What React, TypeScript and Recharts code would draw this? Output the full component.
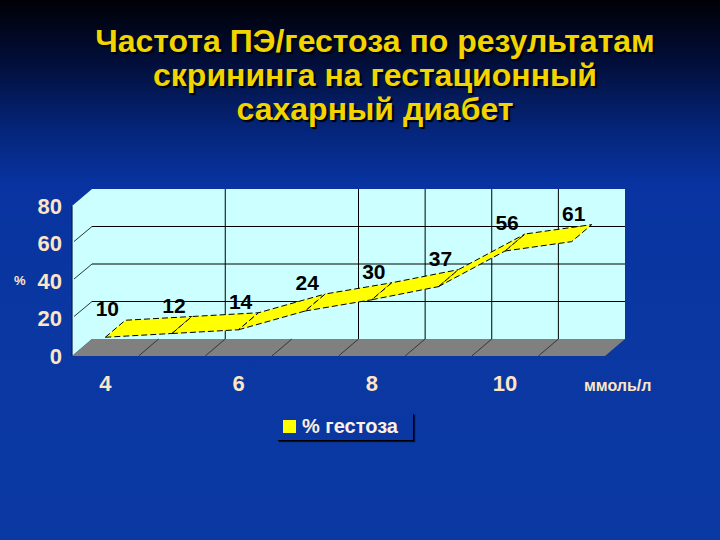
import React from 'react';
import { ComposedChart, XAxis, YAxis, Line, ReferenceArea } from 'recharts';

// glucose, mmol/l (every other category is labelled on the axis)
const glucose = ['4', '5', '6', '7', '8', '9', '10', '11'];
// frequency of preeclampsia / gestosis, %
const gestosis = [10, 12, 14, 24, 30, 37, 56, 61];
const yTicks = [0, 20, 40, 60, 80];
// which category boundaries get a vertical line on the back wall
const wallGridAt = [2, 4, 5, 6, 7];

const seriesName = '% гестоза';
const titleLines = ['Частота ПЭ/гестоза по результатам', 'скрининга на гестационный', 'сахарный диабет'];

const data = glucose.map((g, i) => ({ g, v: gestosis[i] }));

const FONT = '"Liberation Sans", Arial, sans-serif';
const DX = 20;
const DY = -17;
const CYAN = '#ccffff';
const CREAM = '#fde6c6';
const YELLOW = '#ffff00';

// 3D walls + floor, sized by the reference area that spans the whole plot
const Frame = (props: any) => {
  const { x, y, width: w, height: h } = props;
  const band = w / glucose.length;
  const yMax = yTicks[yTicks.length - 1];
  const yOf = (v: number) => y + h - (v / yMax) * h;
  const bottom = y + h;
  return (
    <g>
      <polygon points={`${x},${y} ${x + DX},${y + DY} ${x + DX},${bottom + DY} ${x},${bottom}`} fill={CYAN} />
      <rect x={x + DX} y={y + DY} width={w} height={h} fill={CYAN} />
      {yTicks.slice(1, -1).map((t) => (
        <g key={`h${t}`}>
          <line x1={x + DX} x2={x + DX + w} y1={yOf(t) + DY} y2={yOf(t) + DY} stroke="#000" strokeWidth={1} />
          <line x1={x + 2} x2={x + DX} y1={yOf(t) - 2} y2={yOf(t) + DY} stroke="#000" strokeWidth={0.8} />
        </g>
      ))}
      {wallGridAt.map((k) => (
        <line key={`v${k}`} x1={x + DX + k * band} x2={x + DX + k * band} y1={y + DY} y2={bottom + DY} stroke="#000" strokeWidth={1} />
      ))}
      <polygon points={`${x},${bottom} ${x + w},${bottom} ${x + w + DX},${bottom + DY} ${x + DX},${bottom + DY}`} fill="#808080" />
      {glucose.slice(1).map((_, i) => {
        const fx = x + (i + 1) * band;
        return <line key={`f${i}`} x1={fx} x2={fx + DX} y1={bottom} y2={bottom + DY} stroke="#222" strokeWidth={0.8} />;
      })}
      <line x1={x} x2={x} y1={y} y2={bottom} stroke="#0a1a50" strokeWidth={1.2} />
    </g>
  );
};

// the ribbon is drawn once all point positions are known (last dot)
const pts: { x: number; y: number; v: number }[] = [];
const RibbonDot = (props: any) => {
  const { cx, cy, index, value } = props;
  pts[index] = { x: cx, y: cy, v: Array.isArray(value) ? value[1] : value };
  if (index !== gestosis.length - 1) return <g key={`p${index}`} />;
  const segs = [];
  for (let i = 0; i < pts.length - 1; i++) {
    const a = pts[i];
    const b = pts[i + 1];
    segs.push(
      <polygon
        key={`s${i}`}
        points={`${a.x},${a.y} ${b.x},${b.y} ${b.x + DX},${b.y + DY} ${a.x + DX},${a.y + DY}`}
        fill={YELLOW}
        stroke="#000"
        strokeWidth={1}
        strokeDasharray="6 3"
      />
    );
  }
  return (
    <g key="ribbon">
      {segs}
      {pts.map((p, i) => (
        <text key={`l${i}`} x={p.x + 2} y={p.y - 21} textAnchor="middle" fill="#000" fontSize={21} fontWeight="bold" fontFamily={FONT}>
          {p.v}
        </text>
      ))}
    </g>
  );
};

const tickStyle = { fill: CREAM, fontSize: 22, fontWeight: 'bold', fontFamily: FONT };

export default function App() {
  return (
    <div
      style={{
        position: 'absolute',
        left: 0,
        top: 0,
        width: 720,
        height: 540,
        overflow: 'hidden',
        fontFamily: FONT,
        background: 'linear-gradient(to bottom, #000006 0%, #020f3c 12%, #05257a 24%, #0833a0 34%, #0a37a2 60%, #0b39a3 100%)',
      }}
    >
      <div
        style={{
          position: 'absolute',
          left: 30,
          top: 24,
          width: 690,
          textAlign: 'center',
          color: '#f2d400',
          fontSize: 32,
          lineHeight: '34px',
          fontWeight: 'bold',
          textShadow: '2px 2px 1px #000',
        }}
      >
        {titleLines.map((t) => (
          <div key={t}>{t}</div>
        ))}
      </div>

      <div style={{ position: 'absolute', left: 0, top: 0 }}>
        <ComposedChart width={720} height={540} data={data} margin={{ top: 206, right: 115, bottom: 144, left: 0 }}>
          <XAxis
            dataKey="g"
            scale="band"
            interval={1}
            tickSize={0}
            tickMargin={19}
            axisLine={false}
            height={40}
            tick={tickStyle}
          />
          <YAxis
            domain={[0, 80]}
            ticks={yTicks}
            width={72}
            tickSize={0}
            tickMargin={10}
            axisLine={false}
            tick={tickStyle}
          />
          <ReferenceArea x1={glucose[0]} x2={glucose[glucose.length - 1]} y1={0} y2={80} shape={Frame} />
          <Line dataKey="v" name={seriesName} stroke="none" dot={RibbonDot} activeDot={false} isAnimationActive={false} />
        </ComposedChart>
      </div>

      <div style={{ position: 'absolute', left: 14, top: 273, color: CREAM, fontSize: 13, fontWeight: 'bold' }}>%</div>
      <div style={{ position: 'absolute', left: 584, top: 377, color: CREAM, fontSize: 16, fontWeight: 'bold' }}>ммоль/л</div>

      <div
        style={{
          position: 'absolute',
          left: 277,
          top: 413,
          width: 136,
          height: 27,
          background: '#0a37a2',
          boxShadow: '1px 1px 0 #000, 2px 2px 1px #021040',
          display: 'flex',
          alignItems: 'center',
        }}
      >
        <span style={{ display: 'inline-block', width: 13, height: 13, background: YELLOW, marginLeft: 6, marginRight: 6 }} />
        <span style={{ color: '#fdf0e0', fontSize: 20, fontWeight: 'bold', lineHeight: '27px' }}>{seriesName}</span>
      </div>
    </div>
  );
}
